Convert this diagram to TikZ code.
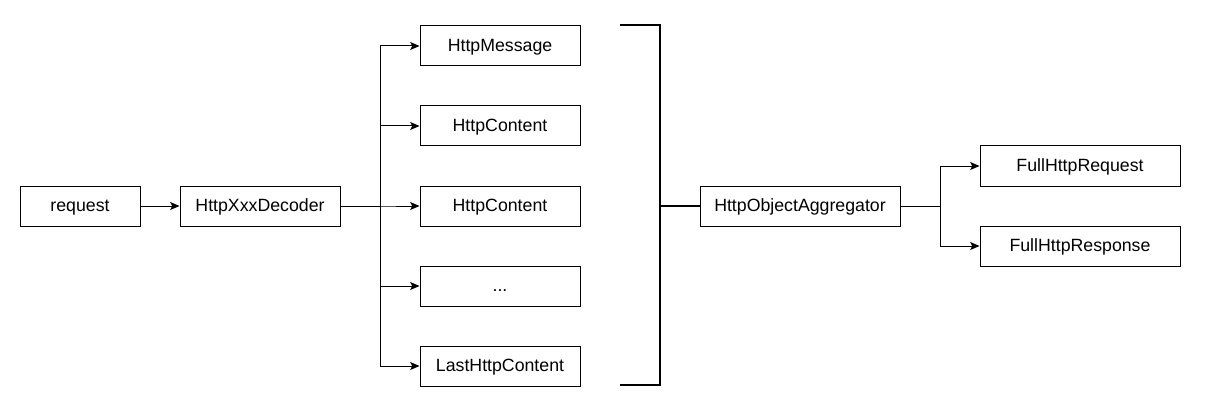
\documentclass[tikz,border=0pt]{standalone}
\usepackage{fontspec}
\setmainfont{Liberation Sans}
\usetikzlibrary{arrows.meta}
\begin{document}
\begin{tikzpicture}[x=0.75pt,y=-0.75pt,
  box/.style={draw,line width=0.75pt,minimum height=30pt,inner sep=0pt,text height=10pt,text depth=2pt,font=\fontsize{13.3}{16}\selectfont},
  w120/.style={minimum width=90pt},
  w160/.style={minimum width=120pt},
  w200/.style={minimum width=150pt},
  conn/.style={line width=0.75pt,-{Stealth[length=7pt,width=6pt,inset=1.5pt]}},
  plain/.style={line width=0.75pt},
  thick2/.style={line width=2pt}]
\useasboundingbox (0,0) rectangle (1205,417);
\node[box,w120] (req) at (80,206) {request};
\node[box,w160] (dec) at (260,206) {HttpXxxDecoder};
\node[box,w160] (m1) at (500,46) {HttpMessage};
\node[box,w160] (m2) at (500,126) {HttpContent};
\node[box,w160] (m3) at (500,206) {HttpContent};
\node[box,w160] (m4) at (500,286) {...};
\node[box,w160] (m5) at (500,366) {LastHttpContent};
\node[box,w200] (agg) at (800,206) {HttpObjectAggregator};
\node[box,w200] (fq) at (1080,166) {FullHttpRequest};
\node[box,w200] (fr) at (1080,246) {FullHttpResponse};
\coordinate (bt) at (620,25);
\coordinate (btc) at (660,25);
\coordinate (bb) at (620,385);
\coordinate (bbc) at (660,385);
\coordinate (bm) at (660,206);
\draw[conn] (req) -- (dec);
\foreach \m in {m1,m2,m3,m4,m5}
  \draw[conn] (dec.east) -- ++(40,0) |- (\m.west);
\draw[thick2] (bt) -- (btc) -- (bbc) -- (bb);
\draw[thick2] (bm) -- (agg.west);
\draw[conn] (agg.east) -- ++(40,0) |- (fq.west);
\draw[conn] (agg.east) -- ++(40,0) |- (fr.west);
\end{tikzpicture}
\end{document}
